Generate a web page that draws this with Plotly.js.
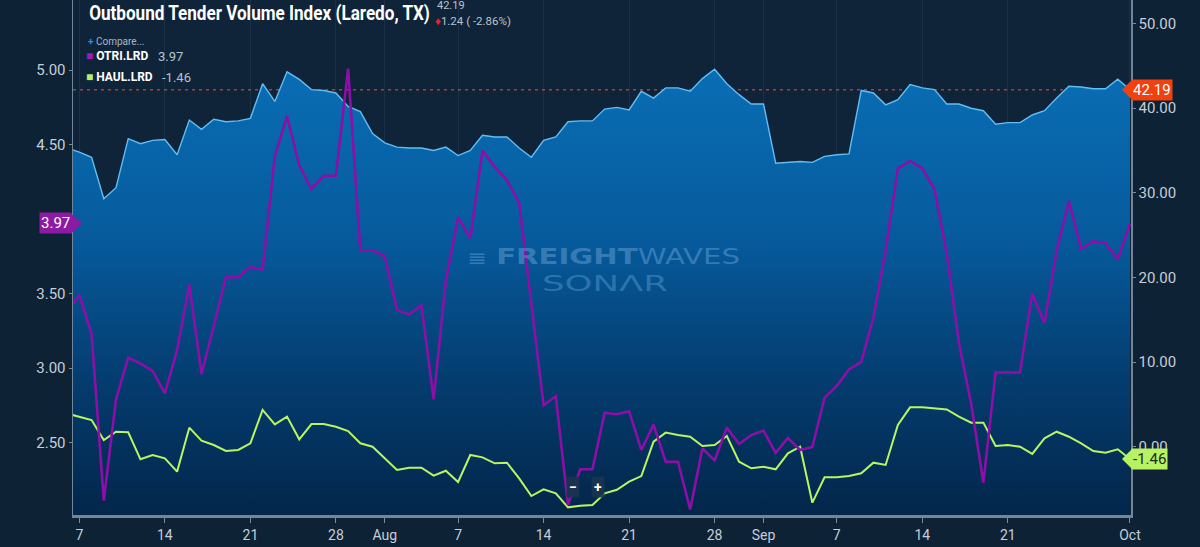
<!DOCTYPE html>
<html>
<head>
<meta charset="utf-8">
<script src="https://cdn.plot.ly/plotly-3.0.1.min.js"></script>
<style>
html,body{margin:0;padding:0;background:#0e2236;}
#chart{width:1200px;height:547px;}
</style>
</head>
<body>
<div id="chart"></div>
<script>
// ---- data (daily, starting 2019-07-06) ----
const START_DATE = '2019-07-06';
const otvi = [
  35.3, 34.8, 34.2, 29.3, 30.6, 36.4, 35.8, 36.2, 36.3, 34.5,
  38.6, 37.5, 38.7, 38.4, 38.5, 38.8, 42.9, 40.8, 44.3, 43.4,
  42.2, 42.1, 41.8, 40.2, 39.6, 37.0, 35.9, 35.4, 35.3, 35.3,
  35.0, 35.4, 34.4, 35.0, 36.8, 36.6, 36.6, 35.3, 34.2, 36.2,
  36.6, 38.4, 38.5, 38.5, 39.9, 40.1, 39.8, 42.0, 41.2, 42.4,
  42.4, 42.0, 43.5, 44.6, 42.9, 41.6, 40.5, 40.5, 33.5, 33.6,
  33.7, 33.6, 34.3, 34.5, 34.6, 42.1, 41.8, 40.4, 41.0, 42.8,
  42.4, 42.2, 40.5, 40.5, 40.0, 39.7, 38.1, 38.3, 38.3, 39.2,
  39.7, 41.2, 42.6, 42.5, 42.3, 42.3, 43.43, 42.19
];
const otri = [
  3.38, 3.49, 3.23, 2.11, 2.79, 3.07, 3.03, 2.98, 2.83, 3.12,
  3.56, 2.96, 3.28, 3.61, 3.61, 3.68, 3.66, 4.42, 4.69, 4.36,
  4.20, 4.29, 4.29, 5.01, 3.79, 3.79, 3.75, 3.39, 3.36, 3.42,
  2.79, 3.59, 4.01, 3.87, 4.46, 4.35, 4.26, 4.11, 3.43, 2.75,
  2.81, 2.08, 2.32, 2.32, 2.70, 2.69, 2.71, 2.45, 2.62, 2.37,
  2.37, 2.05, 2.46, 2.38, 2.60, 2.49, 2.55, 2.58, 2.43, 2.53,
  2.45, 2.47, 2.80, 2.88, 2.99, 3.04, 3.34, 3.79, 4.34, 4.39,
  4.34, 4.20, 3.77, 3.17, 2.76, 2.23, 2.97, 2.97, 2.97, 3.50,
  3.30, 3.79, 4.12, 3.80, 3.85, 3.84, 3.73, 3.97
];
const haul = [
  3.90, 3.54, 3.14, 0.78, 1.76, 1.69, -1.50, -0.99, -1.38, -2.96,
  2.24, 0.70, 0.19, -0.52, -0.40, 0.39, 4.33, 2.63, 3.54, 0.86,
  2.67, 2.67, 2.35, 1.84, 0.39, -0.01, -1.38, -2.77, -2.49, -2.49,
  -3.44, -2.85, -4.18, -0.99, -1.27, -1.98, -1.90, -3.75, -5.84, -5.05,
  -5.52, -7.18, -6.98, -6.90, -5.52, -5.10, -4.15, -3.48, 0.58, 1.65,
  1.37, 1.17, 0.07, 0.19, 1.25, -1.78, -2.57, -2.38, -2.68, -0.79,
  -0.01, -6.63, -3.63, -3.63, -3.48, -3.16, -1.90, -2.17, 2.55, 4.64,
  4.64, 4.52, 4.40, 3.54, 2.83, 2.83, 0.07, 0.19, -0.01, -0.87,
  0.98, 1.76, 1.17, 0.39, -0.52, -0.72, -0.32, -1.46
];
const tickDates = ['2019-07-07','2019-07-14','2019-07-21','2019-07-28','2019-08-01','2019-08-07','2019-08-14','2019-08-21','2019-08-28','2019-09-01','2019-09-07','2019-09-14','2019-09-21','2019-10-01'];
const tickLabels = ['7','14','21','28','Aug','7','14','21','28','Sep','7','14','21','Oct'];
const leftTicks = [2.5, 3.0, 3.5, 4.5, 5.0];   // 4.00 sits hidden under the 3.97 tag
const rightTicks = [0, 10, 20, 30, 40, 50];

const TITLE = 'Outbound Tender Volume Index (Laredo, TX)';
const OTVI_LAST = 42.19, OTVI_CHG = '1.24 ( -2.86%)';
const OTRI_LAST = 3.97, HAUL_LAST = -1.46;

// ---- build dates ----
const dates = [];
const d0 = new Date(START_DATE + 'T00:00:00Z');
for (let i = 0; i < otvi.length; i++) {
  const d = new Date(d0.getTime() + i * 86400000);
  dates.push(d.toISOString().slice(0, 10));
}

const R_RANGE = [-8.085, 52.79];
const L_RANGE = [2.0134, 5.470];
const baseline = dates.map(() => R_RANGE[0]);

// geometry helpers for overlay texts
const PL = 73, PR = 1131, PT = 0, PB = 515;
const px = x => (x - PL) / (PR - PL);
const py = y => 1 - (y - PT) / (PB - PT);

const traces = [
  {x: dates, y: baseline, type: 'scatter', mode: 'lines', line: {width: 0, color: 'rgba(0,0,0,0)'}, hoverinfo: 'skip', yaxis: 'y'},
  {x: dates, y: otvi, type: 'scatter', mode: 'lines', name: 'OTVI.LRD',
   line: {color: '#62bdf5', width: 1.4}, fill: 'tonexty',
   fillgradient: {type: 'vertical', start: R_RANGE[0], stop: 46,
     colorscale: [[0, '#03264a'], [0.3, '#043d70'], [0.6, '#065a9c'], [1, '#0a6fb6']]},
   yaxis: 'y'},
  {x: dates, y: haul, type: 'scatter', mode: 'lines', name: 'HAUL.LRD',
   line: {color: '#b9f562', width: 2}, yaxis: 'y'},
  {x: dates, y: otri, type: 'scatter', mode: 'lines', name: 'OTRI.LRD',
   line: {color: '#8c0fa8', width: 2.6}, yaxis: 'y2'}
];

const axisFont = {family: 'Roboto, Liberation Sans, sans-serif', size: 15, color: '#c5ced8'};

const ann = [];
const fits = [];  // [annotation index, target width px]
function txt(x, y, text, opts, fitWidth) {
  ann.push(Object.assign({xref: 'paper', yref: 'paper', x: px(x), y: py(y), text: text,
    showarrow: false, xanchor: 'left', yanchor: 'middle'}, opts));
  if (fitWidth) fits.push([ann.length - 1, fitWidth]);
}
// title block
txt(87, 13, TITLE, {font: {family: 'Roboto, sans-serif', size: 21, weight: 'bold', color: '#ffffff'}}, 341);
txt(435, 6, String(OTVI_LAST.toFixed(2)), {font: {family: 'Roboto, sans-serif', size: 11, color: '#b9c3cd'}});
txt(433, 21, '<span style="color:#e8232b">\u2666</span>' + OTVI_CHG, {font: {family: 'Roboto, sans-serif', size: 11.5, color: '#b9c3cd'}});
// legend block
txt(86, 41, '<span style="color:#2a8de6"><b>+</b></span> Compare...', {font: {family: 'Roboto, sans-serif', size: 10, color: '#a8b4c1'}});
txt(84, 56, '<span style="color:#9b1ab8">\u25A0</span> <b>OTRI.LRD</b>', {font: {family: 'Roboto, sans-serif', size: 12, color: '#ffffff'}});
txt(156, 56, String(OTRI_LAST.toFixed(2)), {font: {family: 'Roboto, sans-serif', size: 13, color: '#b9c3cd'}});
txt(84, 77, '<span style="color:#b5ee6a">\u25A0</span> <b>HAUL.LRD</b>', {font: {family: 'Roboto, sans-serif', size: 12, color: '#ffffff'}});
txt(160, 77, String(HAUL_LAST.toFixed(2)), {font: {family: 'Roboto, sans-serif', size: 13, color: '#b9c3cd'}});
// watermark
txt(465, 257, '<span style="font-size:17px">\u2263</span> <b>FREIGHT</b>WAVES',
  {font: {family: 'DejaVu Sans, sans-serif', size: 21, color: 'rgba(115,170,220,0.45)'}}, 273);
txt(540, 284, 'SON\u039BR', {font: {family: 'DejaVu Sans, sans-serif', size: 21, color: 'rgba(95,160,215,0.45)'}}, 126);
// zoom buttons
txt(566, 487, '<b>\u2212</b>', {bgcolor: 'rgba(25,52,78,0.9)', borderpad: 2, font: {family: 'Roboto, sans-serif', size: 14, color: '#ffffff'}});
txt(591, 487, '<b>+</b>', {bgcolor: 'rgba(25,52,78,0.9)', borderpad: 2, font: {family: 'Roboto, sans-serif', size: 14, color: '#ffffff'}});

// value tags
const tagFont = {family: 'Roboto, sans-serif', size: 15};
ann.push({xref: 'paper', yref: 'y', x: 1, y: OTVI_LAST, text: OTVI_LAST.toFixed(2), showarrow: false,
  xanchor: 'left', yanchor: 'middle', bgcolor: '#f2400f', borderpad: 1, font: Object.assign({color: '#ffffff'}, tagFont)});
ann.push({xref: 'paper', yref: 'y', x: 1, y: HAUL_LAST, text: HAUL_LAST.toFixed(2), showarrow: false,
  xanchor: 'left', yanchor: 'middle', bgcolor: '#b7f263', borderpad: 1, font: Object.assign({color: '#1d2a1d'}, tagFont)});
ann.push({xref: 'paper', yref: 'y2', x: 0, y: OTRI_LAST, text: OTRI_LAST.toFixed(2), showarrow: false, xshift: -1,
  xanchor: 'right', yanchor: 'middle', bgcolor: '#8d1aa3', borderpad: 1, font: Object.assign({color: '#ffffff'}, tagFont)});

const shapes = [
  {type: 'line', xref: 'paper', yref: 'y', x0: 0, x1: 1, y0: OTVI_LAST, y1: OTVI_LAST,
   line: {color: '#a8403a', width: 1.6, dash: '3px,4px'}, layer: 'below'},
  {type: 'path', xref: 'paper', yref: 'y', xsizemode: 'pixel', ysizemode: 'pixel', xanchor: 1, yanchor: OTVI_LAST,
   path: 'M -9 0 L 1 10 L 1 -10 Z', fillcolor: '#f2400f', line: {width: 0}, layer: 'above'},
  {type: 'path', xref: 'paper', yref: 'y', xsizemode: 'pixel', ysizemode: 'pixel', xanchor: 1, yanchor: HAUL_LAST,
   path: 'M -9 0 L 1 10 L 1 -10 Z', fillcolor: '#b7f263', line: {width: 0}, layer: 'above'},
  {type: 'path', xref: 'paper', yref: 'y2', xsizemode: 'pixel', ysizemode: 'pixel', xanchor: 0, yanchor: OTRI_LAST,
   path: 'M 9 0 L -2 10 L -2 -10 Z', fillcolor: '#8d1aa3', line: {width: 0}, layer: 'above'}
];

const layout = {
  width: 1200, height: 547,
  margin: {l: PL, r: 1200 - PR, t: PT, b: 547 - PB, pad: 0},
  paper_bgcolor: '#0e2236', plot_bgcolor: '#0f2439',
  showlegend: false, hovermode: false,
  xaxis: {type: 'date', range: ['2019-07-06 11:30', '2019-10-01 02:00'],
    tickvals: tickDates, ticktext: tickLabels, tickmode: 'array',
    ticks: 'outside', ticklen: 5, tickcolor: '#7b8d9d', tickwidth: 1,
    showline: true, linecolor: '#71869a', linewidth: 3, mirror: false,
    showgrid: true, gridcolor: 'rgba(140,175,210,0.09)', gridwidth: 1, zeroline: false,
    tickfont: {family: 'Roboto, sans-serif', size: 14, color: '#c5ced8'}, fixedrange: true},
  yaxis: {range: R_RANGE, side: 'right', tickvals: rightTicks, tickformat: '.2f', tickmode: 'array',
    ticks: 'outside', ticklen: 3, tickcolor: '#7b8d9d', showline: true, linecolor: '#71869a', linewidth: 1.5,
    showgrid: false, zeroline: false, tickfont: axisFont, fixedrange: true},
  yaxis2: {range: L_RANGE, side: 'left', overlaying: 'y', tickvals: leftTicks, tickformat: '.2f', tickmode: 'array',
    ticks: 'outside', ticklen: 3, tickcolor: '#7b8d9d', showline: true, linecolor: '#71869a', linewidth: 1.5,
    showgrid: false, zeroline: false, tickfont: axisFont, fixedrange: true},
  annotations: ann,
  shapes: shapes
};

Plotly.newPlot('chart', traces, layout, {displayModeBar: false, staticPlot: true}).then(gd => {
  // squeeze condensed-looking texts horizontally to the widths they take in the reference, keeping the left edge
  fits.forEach(([idx, w]) => {
    const g = gd.querySelector('.annotation[data-index="' + idx + '"]');
    if (!g) return;
    const t = g.querySelector('text.annotation-text');
    if (!t) return;
    const bb = t.getBBox();
    const s = w / bb.width;
    t.setAttribute('transform', 'translate(' + (bb.x * (1 - s)) + ',0) scale(' + s + ',1)');
    const r = g.querySelector('rect.bg');
    if (r) r.setAttribute('width', w + 4);
  });
});
</script>
</body>
</html>
